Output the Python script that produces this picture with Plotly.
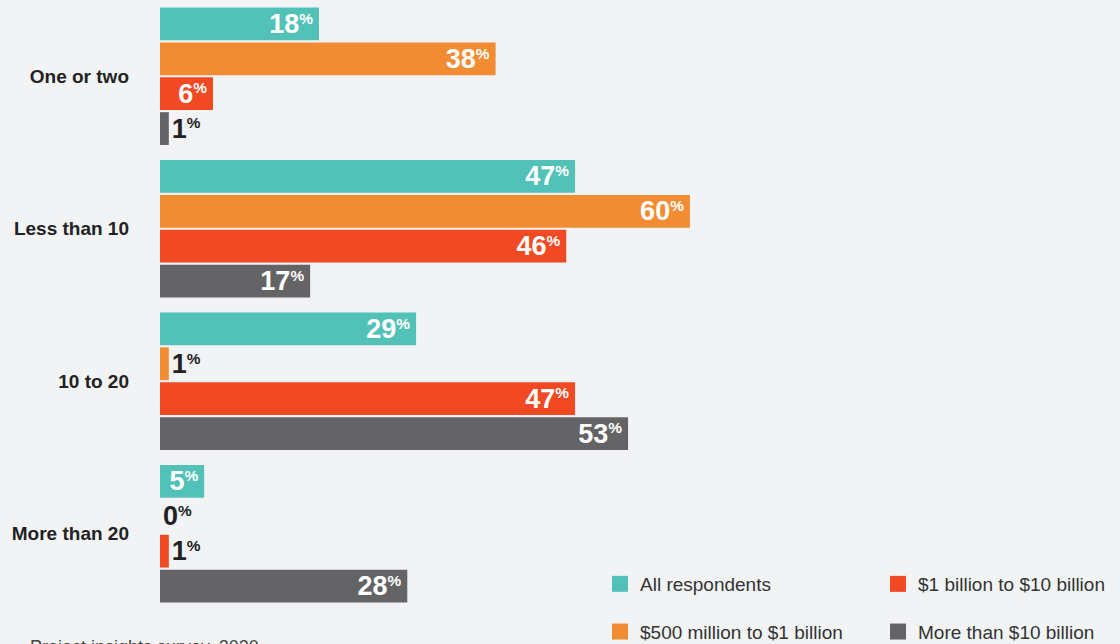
import plotly.graph_objects as go

categories = ["One or two", "Less than 10", "10 to 20", "More than 20"]
series_names = ["All respondents", "$500 million to $1 billion",
                "$1 billion to $10 billion", "More than $10 billion"]
all_resp = [18, 47, 29, 5]
mid_500m = [38, 60, 1, 0]
mid_1b = [6, 46, 47, 1]
big_10b = [1, 17, 53, 28]
colors = ["#52c2b9", "#f28c33", "#f04923", "#646466"]
legend_ids = ["legend", "legend", "legend2", "legend2"]

BG = "#f2f3f5"
FONT = "Liberation Sans, Arial, sans-serif"
W, H, L = 1120, 644, 160
PW = W - L


def px_x(px):
    return (px - L) / PW


def px_y(py):
    return 1 - py / H


fig = go.Figure()
for name, vals, col, lg in zip(series_names, [all_resp, mid_500m, mid_1b, big_10b], colors, legend_ids):
    texts = [f"{v}<span style='font-size:22px'><sup>%</sup></span>"
             f"<span style='font-size:11px'>\u00a0</span>" for v in vals]
    pos = ["inside" if v >= 5 else "outside" for v in vals]
    fig.add_trace(go.Bar(
        y=categories, x=vals, orientation="h", name=name,
        marker=dict(color=col, line=dict(width=0)),
        text=texts, textposition=pos, insidetextanchor="end", textangle=0,
        constraintext="none", cliponaxis=False,
        insidetextfont=dict(color="white", size=27, family=FONT, weight="bold"),
        outsidetextfont=dict(color="#222222", size=27, family=FONT, weight="bold"),
        showlegend=False, hoverinfo="skip",
    ))
    # legend entry with a larger square swatch
    fig.add_trace(go.Scatter(
        x=[None], y=[None], mode="markers", name=name,
        marker=dict(symbol="square", size=16, color=col),
        legend=lg, legendgroup=name, showlegend=True,
    ))

legend_common = dict(xanchor="left", yanchor="top", orientation="v",
                     traceorder="grouped", tracegroupgap=20,
                     font=dict(size=19, color="#333333", family=FONT),
                     bgcolor="rgba(0,0,0,0)", itemclick=False)

fig.update_layout(
    width=W, height=H,
    paper_bgcolor=BG, plot_bgcolor=BG,
    margin=dict(l=L, r=0, t=0, b=0, autoexpand=False),
    barmode="group", bargap=0.085, bargroupgap=0.06,
    xaxis=dict(range=[0, 108.7], autorange=False, visible=False, fixedrange=True),
    yaxis=dict(categoryorder="array", categoryarray=categories,
               range=[3.723, -0.5], autorange=False,
               showgrid=False, showline=False, zeroline=False, fixedrange=True,
               ticks="", ticklabelstandoff=30,
               tickfont=dict(size=19, color="#222222", family=FONT, weight="bold")),
    legend=dict(x=px_x(600), y=px_y(565), **legend_common),
    legend2=dict(x=px_x(878), y=px_y(565), **legend_common),
    annotations=[dict(text="Project insights survey, 2020", xref="paper", yref="paper",
                      x=px_x(28), y=px_y(635), xanchor="left", yanchor="top",
                      showarrow=False, font=dict(size=18, color="#444444", family=FONT))],
)

fig.write_html("out.html")
